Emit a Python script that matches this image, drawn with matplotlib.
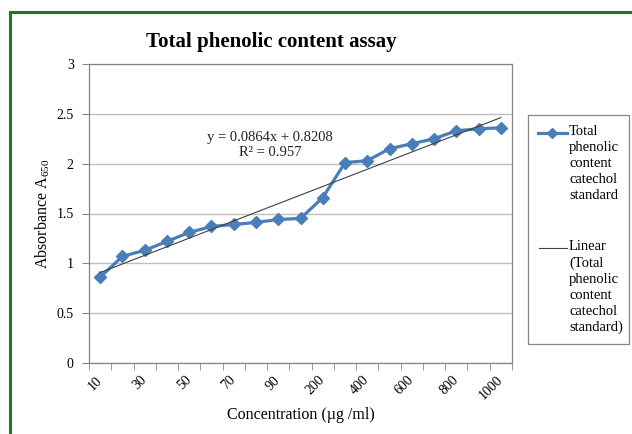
import numpy as np
import matplotlib
matplotlib.use("Agg")
import matplotlib.pyplot as plt
from matplotlib.lines import Line2D
from matplotlib.patches import Rectangle

plt.rcParams['font.family'] = ['Liberation Serif', 'DejaVu Serif']
plt.rcParams['mathtext.fontset'] = 'custom'
plt.rcParams['mathtext.rm'] = 'Liberation Serif'
plt.rcParams['mathtext.it'] = 'Liberation Serif:italic'

# data
concentrations = ['10', '20', '30', '40', '50', '60', '70', '80', '90', '100',
                  '200', '300', '400', '500', '600', '700', '800', '900', '1000']
absorbance = [0.86, 1.07, 1.13, 1.22, 1.31, 1.37, 1.39, 1.41, 1.44, 1.45,
              1.66, 2.01, 2.03, 2.15, 2.20, 2.25, 2.33, 2.35, 2.36]
trend_slope = 0.0864
trend_intercept = 0.8208
trend_r2 = 0.957

blue = '#4a7ebb'

fig = plt.figure(figsize=(6.32, 4.34), dpi=100)
ax = fig.add_axes([89/632, 71/434, 423/632, 299/434])

x = np.arange(len(concentrations))
ax.plot(x, absorbance, color=blue, lw=2.3, marker='D', ms=6.5,
        markeredgecolor=blue, zorder=3)

# excel linear trendline uses category index 1..n
xt = np.array([x[0], x[-1]])
ax.plot(xt, trend_slope * (xt + 1) + trend_intercept, color='#404040', lw=0.8, zorder=4)

ax.text(7.63, 2.19, 'y = %.4fx + %.4f\nR² = %.3f' % (trend_slope, trend_intercept, trend_r2),
        ha='center', va='center', multialignment='center', fontsize=10.5, color='#222222')

ax.set_xlim(-0.5, len(x) - 0.5)
ax.set_ylim(0, 3)
ax.set_yticks(np.arange(0, 3.01, 0.5))
ax.set_yticklabels(['0', '0.5', '1', '1.5', '2', '2.5', '3'])
ax.yaxis.grid(True, color='#bfbfbf', lw=1)
ax.set_axisbelow(True)

ax.set_xticks(np.arange(-0.5, len(x), 1.0), minor=True)
ax.set_xticks(x[::2])
ax.set_xticklabels(concentrations[::2], rotation=45, ha='right', va='center',
                   rotation_mode='anchor')
ax.tick_params(axis='x', which='major', length=0, pad=11, labelsize=10)
ax.tick_params(axis='x', which='minor', length=5, color='#868686', direction='out')
ax.tick_params(axis='y', length=5, color='#868686', direction='out', labelsize=10, pad=6)

for s in ax.spines.values():
    s.set_color('#868686')
    s.set_linewidth(0.9)

ax.set_xlabel('Concentration (µg /ml)', fontsize=11.5, labelpad=3)
ax.set_ylabel(r'Absorbance A$_{650}$', fontsize=11.5, labelpad=3)
fig.text(271/632, 1 - 42/434, 'Total phenolic content assay', ha='center', va='center',
         fontsize=15, fontweight='bold')

# legend drawn by hand so handles sit on the first text line
fig.patches.append(Rectangle((528/632, 90/434), 101/632, 229/434, transform=fig.transFigure,
                             fill=False, edgecolor='#868686', lw=0.9))
fig.lines.append(Line2D([538/632, 567/632], [1 - 133/434] * 2, transform=fig.transFigure,
                        color=blue, lw=2.3))
fig.lines.append(Line2D([552/632], [1 - 133/434], transform=fig.transFigure,
                        color=blue, marker='D', ms=5))
fig.lines.append(Line2D([539/632, 567/632], [1 - 248/434] * 2, transform=fig.transFigure,
                        color='#404040', lw=0.8))
fig.text(569/632, 1 - 125/434, 'Total\nphenolic\ncontent\ncatechol\nstandard',
         ha='left', va='top', fontsize=10.5, linespacing=1.3)
fig.text(569/632, 1 - 240/434, 'Linear\n(Total\nphenolic\ncontent\ncatechol\nstandard)',
         ha='left', va='top', fontsize=10.5, linespacing=1.3)

# green frame around the chart area, cut off at right and bottom
fig.patches.append(Rectangle((10/632, -0.2), 1.5, 1.2 - 12/434, transform=fig.transFigure,
                             fill=False, edgecolor='#1f7a1f', lw=2.2))

fig.savefig('out.png', dpi=100)
